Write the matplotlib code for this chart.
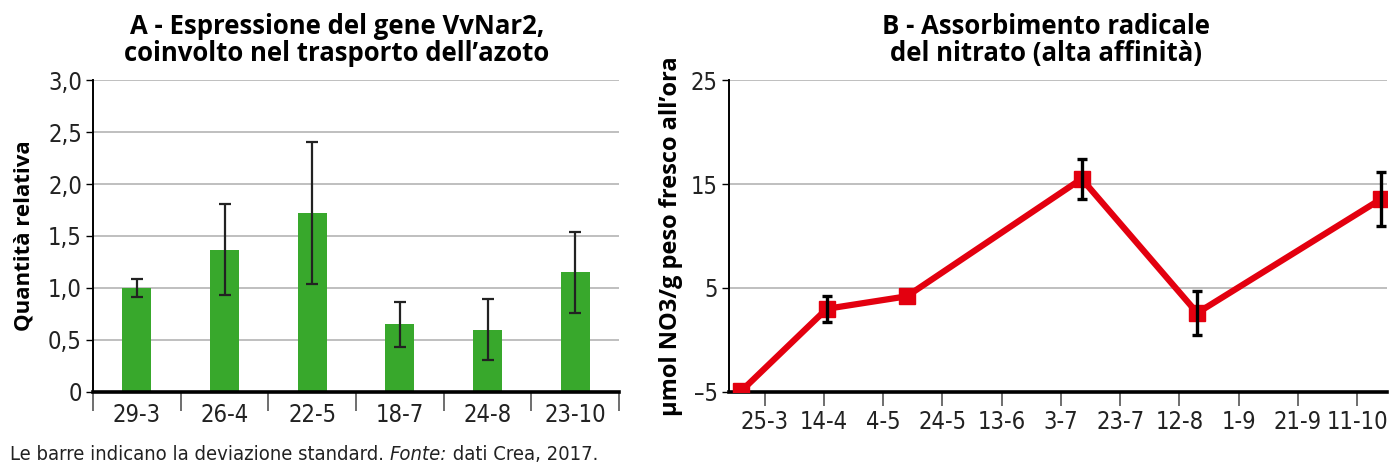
import matplotlib
matplotlib.use("Agg")
import matplotlib.pyplot as plt
import numpy as np

# A - espressione relativa di VvNar2 per data di campionamento
campioni = ["29-3", "26-4", "22-5", "18-7", "24-8", "23-10"]
espressione = [1.0, 1.37, 1.72, 0.65, 0.60, 1.15]
dev_espressione = [0.09, 0.44, 0.68, 0.22, 0.29, 0.39]

# B - assorbimento del nitrato (µmol NO3/g peso fresco all'ora)
date_prelievo = ["2017-03-17", "2017-04-15", "2017-05-12", "2017-07-10", "2017-08-18", "2017-10-19"]
assorbimento = [-4.95, 3.0, 4.2, 15.5, 2.6, 13.55]
dev_assorbimento = [0.0, 1.25, 0.0, 1.95, 2.15, 2.6]
date_asse = ["2017-03-25", "2017-04-14", "2017-05-04", "2017-05-24", "2017-06-13", "2017-07-03",
             "2017-07-23", "2017-08-12", "2017-09-01", "2017-09-21", "2017-10-11"]
etichette_asse = ["25-3", "14-4", "4-5", "24-5", "13-6", "3-7", "23-7", "12-8", "1-9", "21-9", "11-10"]

VERDE = "#38a82c"
ROSSO = "#e3000f"
GRIGIO = "#b4b4b4"
NARROW = ["DejaVu Sans"]
BOLD = ["Open Sans", "DejaVu Sans"]

fig = plt.figure(figsize=(13.97, 4.72), dpi=100)
ax1 = fig.add_axes([0.0666, 0.1695, 0.3765, 0.661])
ax2 = fig.add_axes([0.5218, 0.1695, 0.4710, 0.661])

# --- pannello A ---
x = np.arange(len(campioni))
ax1.bar(x, espressione, width=0.33, color=VERDE, zorder=2)
ax1.errorbar(x, espressione, yerr=dev_espressione, fmt="none", ecolor="#222222",
             elinewidth=1.6, capsize=4, capthick=1.6, zorder=3)
ax1.set_xlim(-0.5, len(campioni) - 0.5)
ax1.set_ylim(0, 3.0)
ax1.set_yticks(np.arange(0, 3.01, 0.5))
ax1.set_yticklabels(["0" if v == 0 else f"{v:.1f}".replace(".", ",") for v in np.arange(0, 3.01, 0.5)])
ax1.set_xticks(x)
ax1.set_xticklabels(campioni)
ax1.set_xticks(np.arange(-0.5, len(campioni)), minor=True)
ax1.tick_params(axis="x", which="major", length=0, pad=8)
ax1.tick_params(axis="x", which="minor", length=14, width=1.2, color="#555555")
ax1.set_ylabel("Quantità relativa", family=BOLD, fontweight="bold", fontsize=16, labelpad=10)
ax1.set_title("A - Espressione del gene VvNar2,\ncoinvolto nel trasporto dell’azoto",
              family=BOLD, fontweight="bold", fontsize=18.5, linespacing=1.0, pad=14, x=0.464)

# --- pannello B ---
giorni = np.array(date_prelievo, dtype="datetime64[D]")
ax2.plot(giorni, assorbimento, color=ROSSO, lw=4.5, marker="s", ms=11, zorder=3)
con_dev = np.array(dev_assorbimento) > 0
ax2.errorbar(giorni[con_dev], np.array(assorbimento)[con_dev], yerr=np.array(dev_assorbimento)[con_dev],
             fmt="none", ecolor="black", elinewidth=2.4, capsize=3.5, capthick=2.4, zorder=4)
ax2.set_xlim(np.datetime64("2017-03-13"), np.datetime64("2017-10-21"))
ax2.set_ylim(-5, 25)
ax2.set_yticks([-5, 5, 15, 25])
ax2.set_yticklabels(["\u20135", "5", "15", "25"])
ax2.set_xticks(np.array(date_asse, dtype="datetime64[D]"))
ax2.set_xticklabels(etichette_asse)
ax2.tick_params(axis="x", length=10, width=1.2, color="#555555", pad=3)
ax2.set_ylabel("µmol NO3/g peso fresco all’ora", family=BOLD, fontweight="bold", fontsize=17, labelpad=6)
ax2.set_title("B - Assorbimento radicale\ndel nitrato (alta affinità)",
              family=BOLD, fontweight="bold", fontsize=18.5, linespacing=1.0, pad=14, x=0.482)

for ax in (ax1, ax2):
    ax.grid(axis="y", color=GRIGIO, lw=1.2, zorder=0)
    ax.set_axisbelow(True)
    for s in ("top", "right"):
        ax.spines[s].set_visible(False)
    ax.spines["left"].set_linewidth(1.4)
    ax.spines["bottom"].set_linewidth(2.6)
    ax.tick_params(axis="y", length=5, width=1.0, pad=3)
    for lab in ax.get_xticklabels() + ax.get_yticklabels():
        lab.set_family(NARROW)
        lab.set_stretch("condensed")
        lab.set_fontsize(17)
        lab.set_color("#222222")

# nota a pie' di figura, con "Fonte:" in corsivo
fig.canvas.draw()
r = fig.canvas.get_renderer()
xx = 10
for testo, stile in [("Le barre indicano la deviazione standard. ", "normal"),
                     ("Fonte:", "italic"), (" dati Crea, 2017.", "normal")]:
    t = fig.text(xx / 1397, 1 - 460 / 472, testo, family=NARROW, stretch="condensed",
                 fontsize=14.5, style=stile, color="#222222", va="baseline")
    xx = t.get_window_extent(r).x1

fig.savefig("out.png", dpi=100)
